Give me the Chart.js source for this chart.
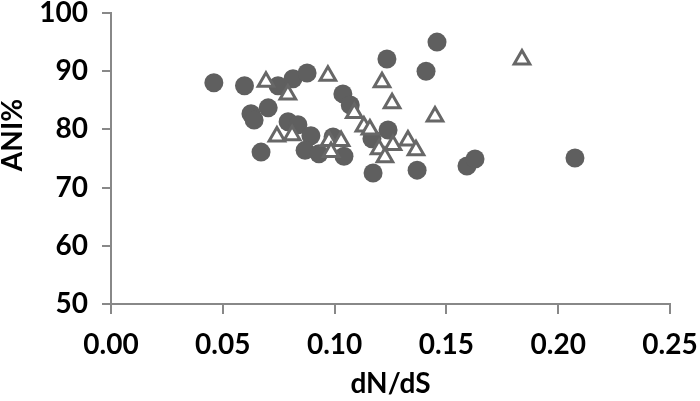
<!DOCTYPE html>
<html>
<head>
<meta charset="utf-8">
<script src="https://cdn.jsdelivr.net/npm/chart.js@4"></script>
<style>
  body { margin: 0; background: #fff; }
  #wrap { width: 700px; height: 401px; position: relative; }
</style>
</head>
<body>
<div id="wrap"><canvas id="chart"></canvas></div>
<script>
// filled circles
const circleDnds = [0.046, 0.0597, 0.0747, 0.0626, 0.064, 0.0703, 0.0671, 0.0814, 0.0877, 0.1037,
  0.107, 0.0792, 0.0836, 0.0894, 0.0868, 0.093, 0.1042, 0.0993, 0.1458, 0.1234,
  0.1409, 0.1239, 0.1167, 0.1172, 0.1369, 0.1592, 0.1628, 0.2075];
const circleAni = [88.0, 87.5, 87.5, 82.7, 81.6, 83.7, 76.1, 88.7, 89.7, 86.1,
  84.2, 81.3, 80.8, 78.9, 76.4, 75.8, 75.4, 78.7, 95.0, 92.1,
  90.0, 79.9, 78.4, 72.5, 73.0, 73.7, 74.9, 75.1];
// open triangles
const triangleDnds = [0.0693, 0.0791, 0.0742, 0.081, 0.097, 0.1088, 0.1131, 0.1158, 0.0975, 0.1029,
  0.0984, 0.1212, 0.1257, 0.1449, 0.1199, 0.1225, 0.1261, 0.1328, 0.1364, 0.1838];
const triangleAni = [88.2, 86.0, 78.8, 79.0, 89.2, 82.8, 80.5, 80.0, 78.0, 78.0,
  76.1, 88.1, 84.5, 82.2, 76.6, 75.2, 77.3, 78.1, 76.4, 92.0];

const xTicks = [0, 0.05, 0.10, 0.15, 0.20, 0.25];
const yTicks = [50, 60, 70, 80, 90, 100];

const toPoints = (xs, ys) => xs.map((x, i) => ({ x: x, y: ys[i] }));

const axisGray = "#888888";
const tickFont = { family: "Lato", size: 28, weight: "bold", lineHeight: 1 };

// y title sits above the middle of the axis in the original
const yTitle = {
  id: "yTitle",
  afterDraw(chart) {
    const ctx = chart.ctx;
    ctx.save();
    ctx.translate(13, 135);
    ctx.rotate(-Math.PI / 2);
    ctx.font = "bold 28px Lato";
    ctx.fillStyle = "#000";
    ctx.textAlign = "center";
    ctx.textBaseline = "middle";
    ctx.fillText("ANI%", 0, 0);
    ctx.restore();
  },
};

new Chart(document.getElementById("chart"), {
  type: "scatter",
  data: {
    datasets: [
      {
        label: "triangles",
        data: toPoints(triangleDnds, triangleAni),
        pointStyle: "triangle",
        pointRadius: 9,
        pointHoverRadius: 9,
        backgroundColor: "#ffffff",
        borderColor: "#676767",
        borderWidth: 3,
      },
      {
        label: "circles",
        data: toPoints(circleDnds, circleAni),
        pointStyle: "circle",
        pointRadius: 9.5,
        pointHoverRadius: 9.5,
        backgroundColor: "#5f5f5f",
        borderColor: "#5f5f5f",
        borderWidth: 0,
      },
    ],
  },
  options: {
    responsive: true,
    maintainAspectRatio: false,
    animation: false,
    layout: { autoPadding: false, padding: { top: 13, right: 30, left: 0, bottom: 0 } },
    plugins: { legend: { display: false }, tooltip: { enabled: false } },
    scales: {
      x: {
        type: "linear",
        min: 0,
        max: 0.25,
        afterFit: (s) => {
          s.height = 97;
          s.paddingLeft = 0;
          s.paddingRight = 0;
        },
        afterBuildTicks: (s) => { s.ticks = xTicks.map((v) => ({ value: v })); },
        ticks: {
          color: "#000",
          font: tickFont,
          padding: 17,
          maxRotation: 0,
          callback: (v) => v.toFixed(2),
        },
        grid: { drawOnChartArea: false, drawTicks: true, tickLength: 10, color: axisGray, lineWidth: 2 },
        border: { color: axisGray, width: 2 },
        title: {
          display: true,
          text: "dN/dS",
          color: "#000",
          font: { family: "Lato", size: 28, weight: "bold", lineHeight: 1.2 },
          padding: { top: 0, bottom: 0 },
        },
      },
      y: {
        min: 50,
        max: 100,
        afterFit: (s) => {
          s.width = 111;
          s.paddingTop = 0;
          s.paddingBottom = 0;
        },
        afterBuildTicks: (s) => { s.ticks = yTicks.map((v) => ({ value: v })); },
        ticks: { color: "#000", font: tickFont, padding: 14 },
        grid: { drawOnChartArea: false, drawTicks: true, tickLength: 9, color: axisGray, lineWidth: 2 },
        border: { color: axisGray, width: 2 },
      },
    },
  },
  plugins: [yTitle],
});
</script>
</body>
</html>
